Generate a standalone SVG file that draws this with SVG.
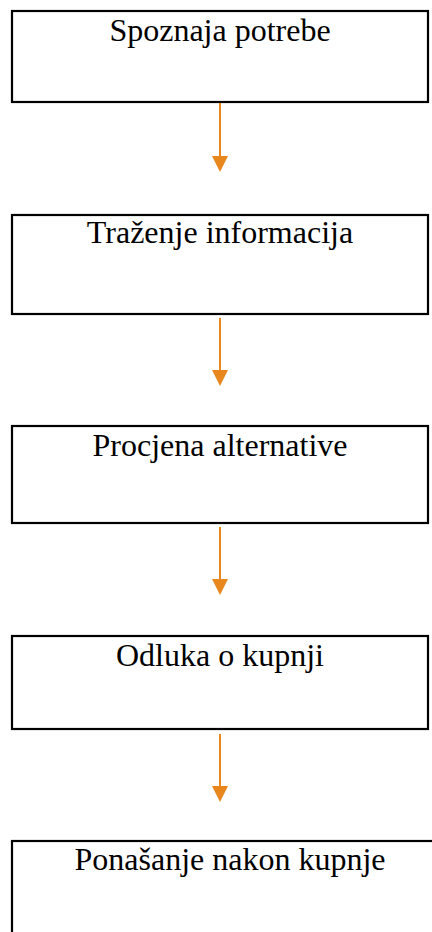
<svg xmlns="http://www.w3.org/2000/svg" width="432" height="932" viewBox="0 0 432 932">
<style>
.box{fill:#fff;stroke:#000;stroke-width:2.2}
.lbl{font-family:"Liberation Serif","Times New Roman",serif;font-size:32px;fill:#000;text-anchor:middle}
.con{stroke:#E8871E;stroke-width:2;fill:none}
</style>
<defs>
<marker id="ah" markerUnits="userSpaceOnUse" markerWidth="16" markerHeight="16" refX="0" refY="8" orient="auto" viewBox="0 0 16 16">
<path d="M0,0 L16,8 L0,16 z" fill="#E8871E"/>
</marker>
</defs>
<rect width="432" height="932" fill="#fff"/>
<g id="n1"><rect class="box" x="12" y="11" width="416" height="91"/><text class="lbl" x="220" y="41">Spoznaja potrebe</text></g>
<g id="n2"><rect class="box" x="12" y="215" width="416" height="99"/><text class="lbl" x="220" y="243">Traženje informacija</text></g>
<g id="n3"><rect class="box" x="12" y="426" width="416" height="97"/><text class="lbl" x="220" y="456">Procjena alternative</text></g>
<g id="n4"><rect class="box" x="12" y="636" width="416" height="93"/><text class="lbl" x="220" y="666">Odluka o kupnji</text></g>
<g id="n5"><rect class="box" x="12" y="841" width="436" height="110"/><text class="lbl" x="230" y="870">Ponašanje nakon kupnje</text></g>
<g id="connectors">
<line class="con" x1="220" y1="103" x2="220" y2="156" marker-end="url(#ah)"/>
<line class="con" x1="220" y1="318" x2="220" y2="370" marker-end="url(#ah)"/>
<line class="con" x1="220" y1="527" x2="220" y2="579" marker-end="url(#ah)"/>
<line class="con" x1="220" y1="734" x2="220" y2="786" marker-end="url(#ah)"/>
</g>
</svg>
